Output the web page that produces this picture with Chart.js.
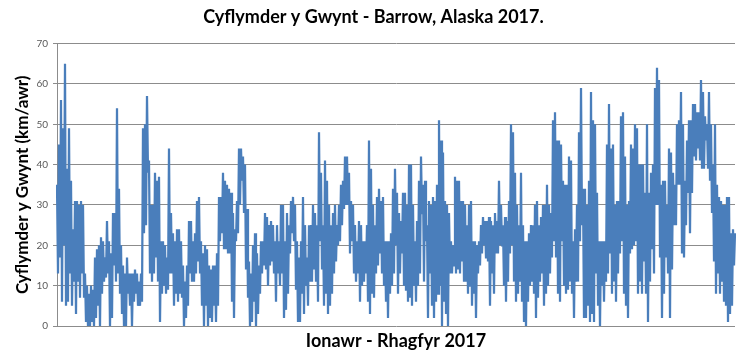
<!DOCTYPE html>
<html>
<head>
<meta charset="utf-8">
<script src="https://cdn.jsdelivr.net/npm/chart.js@4.4.1/dist/chart.umd.min.js"></script>
<style>
  body { margin: 0; background: #fff; }
  canvas { display: block; }
</style>
</head>
<body>
<canvas id="windChart" width="742" height="362"></canvas>
<script>
// wind speed (km/awr), left to right, as high/low swings
const windQ1 = [35, 13, 45, 17, 56, 6, 49, 20, 65, 5, 39, 6, 49, 13, 36, 5, 24, 11, 31, 3, 31, 11, 30, 7, 31, 13, 30, 7, 13, 1, 10, 0, 8, 0, 10, 1, 9, 0, 17, 2, 19, 5, 20, 0, 22, 8, 21, 11, 17, 12, 26, 13, 21, 0, 18, 2, 28, 15, 28, 11, 54, 13, 34, 8, 20, 3, 15, 0, 13, 0, 17, 8, 13, 5, 13, 0, 13, 6, 14, 8, 13, 5, 11, 5, 13, 6, 49, 23, 50, 25, 57, 38, 41, 13, 30, 11, 30, 13, 38, 17, 36, 11, 37, 1, 21, 8, 21, 10, 20, 8, 17, 9, 44, 13, 28, 13, 23, 5, 21, 8, 24, 6, 24, 8, 21, 7, 15, 0, 11, 2, 15, 5, 26, 13, 26, 11, 21, 11, 23, 13, 31, 16, 32, 13, 21, 5, 18, 0, 20, 5, 19, 0, 15, 2, 14, 1, 15, 5, 15, 1, 18, 5, 32, 21, 32, 23, 38, 19, 36, 19];
const windQ2 = [35, 18, 34, 18, 33, 6, 28, 2, 24, 21, 31, 23, 44, 30, 44, 36, 42, 28, 40, 14, 29, 7, 16, 0, 13, 1, 20, 6, 23, 0, 18, 3, 15, 8, 21, 13, 21, 15, 28, 14, 27, 10, 25, 15, 26, 16, 25, 13, 21, 6, 25, 13, 21, 10, 30, 13, 30, 2, 21, 4, 28, 8, 25, 18, 31, 23, 32, 21, 30, 9, 21, 1, 17, 1, 21, 8, 32, 3, 25, 10, 17, 5, 25, 11, 25, 11, 30, 14, 28, 11, 25, 6, 48, 21, 38, 14, 25, 5, 41, 8, 36, 3, 30, 5, 25, 8, 28, 13, 30, 16, 25, 20, 30, 21, 35, 25, 36, 29, 42, 30, 42, 30, 38, 18, 31, 21, 30, 13, 25, 11, 21, 13, 26, 6, 25, 10, 21, 11, 21, 13, 25, 6, 46, 3, 39, 8, 30, 7, 25, 13, 32, 15, 34, 18, 31, 13, 32, 10, 21, 6, 21, 2, 21, 8, 23, 10, 34, 13, 39, 20];
const windQ3 = [33, 8, 28, 13, 26, 18, 33, 10, 33, 9, 30, 6, 40, 7, 40, 5, 30, 10, 21, 6, 26, 10, 36, 13, 42, 28, 35, 11, 36, 21, 25, 2, 31, 13, 30, 5, 32, 2, 31, 6, 35, 8, 51, 10, 46, 0, 43, 6, 31, 3, 30, 0, 28, 13, 21, 13, 20, 15, 37, 13, 36, 14, 36, 13, 31, 16, 31, 11, 30, 11, 25, 8, 30, 10, 31, 5, 21, 8, 21, 2, 20, 13, 21, 15, 25, 18, 27, 20, 26, 17, 26, 16, 27, 5, 26, 13, 25, 8, 28, 18, 26, 18, 36, 20, 30, 20, 25, 10, 27, 6, 26, 11, 31, 18, 50, 20, 48, 11, 38, 6, 30, 8, 25, 11, 38, 6, 25, 1, 21, 0, 21, 6, 23, 10, 25, 11, 25, 8, 30, 2, 31, 7, 25, 11, 27, 13, 30, 5, 30, 8, 35, 10, 30, 13, 28, 17, 51, 21, 53, 17, 46, 8, 46, 6, 45, 21, 36, 10, 35, 8];
const windQ4 = [35, 9, 42, 11, 41, 8, 21, 2, 24, 11, 30, 11, 48, 21, 59, 25, 34, 2, 34, 2, 30, 5, 36, 1, 58, 3, 51, 1, 50, 13, 33, 5, 21, 0, 21, 10, 21, 6, 21, 11, 45, 13, 55, 18, 44, 8, 45, 11, 30, 6, 31, 13, 31, 18, 52, 21, 53, 8, 42, 5, 30, 2, 31, 18, 45, 19, 44, 20, 50, 21, 49, 8, 40, 11, 40, 8, 40, 16, 33, 8, 50, 1, 33, 11, 38, 19, 40, 13, 59, 30, 64, 30, 61, 17, 35, 2, 36, 8, 36, 17, 30, 13, 44, 2, 43, 14, 38, 25, 35, 25, 50, 35, 51, 35, 58, 18, 50, 17, 36, 25, 46, 33, 51, 23, 51, 33, 55, 42, 55, 41, 53, 44, 53, 41, 61, 39, 58, 39, 52, 46, 50, 39, 58, 36, 50, 28, 40, 16, 50, 8, 35, 13, 32, 8, 31, 11, 30, 6, 30, 5, 32, 1, 32, 3, 23, 5, 24, 15, 23];

const yTicks = [0, 10, 20, 30, 40, 50, 60, 70];

const windSpeed = [].concat(windQ1, windQ2, windQ3, windQ4);
const readings = windSpeed.map((v, i) => i);

const gridGrey = '#8c8c8c';

const ctx = document.getElementById('windChart').getContext('2d');
const windChart = new Chart(ctx, {
    type: 'line',
    data: {
        labels: readings,
        datasets: [{
            data: windSpeed,
            borderColor: '#4a7ebb',
            borderWidth: 2.25,
            pointRadius: 0,
            tension: 0,
            fill: false
        }]
    },
    options: {
        responsive: false,
        animation: false,
        layout: { padding: { left: 12, right: 7, top: 0, bottom: 10 } },
        plugins: {
            legend: { display: false },
            tooltip: { enabled: false },
            title: {
                display: true,
                text: 'Cyflymder y Gwynt - Barrow, Alaska 2017.',
                color: '#000',
                font: { family: 'Lato', size: 18, weight: 'bold' },
                padding: { top: 6, bottom: 16 }
            }
        },
        scales: {
            x: {
                offset: false,
                grid: { display: false },
                border: { display: false },
                ticks: { display: false },
                title: {
                    display: true,
                    text: 'Ionawr - Rhagfyr 2017',
                    color: '#000',
                    font: { family: 'Lato', size: 18, weight: 'bold' },
                    padding: 0
                },
                afterFit: function(scale) { scale.height = 26; }
            },
            y: {
                min: 0,
                max: 70,
                afterBuildTicks: function(scale) {
                    scale.ticks = yTicks.map(v => ({ value: v }));
                },
                ticks: {
                    color: '#595959',
                    padding: 5,
                    font: { family: 'Lato', size: 10 }
                },
                grid: { color: gridGrey, lineWidth: 1, tickLength: 4 },
                border: { color: gridGrey },
                title: {
                    display: true,
                    text: 'Cyflymder y Gwynt (km/awr)',
                    color: '#000',
                    font: { family: 'Lato', size: 17, weight: 'bold' },
                    padding: 0
                },
                afterFit: function(scale) { scale.width = 45; }
            }
        }
    }
});
</script>
</body>
</html>
